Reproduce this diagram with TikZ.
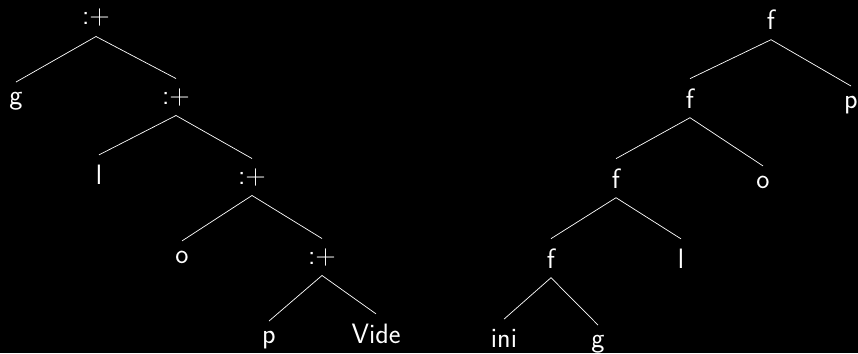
\documentclass[tikz,border=0pt]{standalone}
\usepackage{fontspec}
\begin{document}
\begin{tikzpicture}[x=1pt,y=-1pt,
  lbl/.style={text=white,font=\fontsize{28}{34}\selectfont\sffamily,inner sep=9.5pt,anchor=base},
  edge/.style={draw=white,line width=0.7pt}]
\useasboundingbox[fill=black] (0,0) rectangle (858,353);
% left tree
\node[lbl] (a1) at (96,25) {:+};
\node[lbl] (a2) at (16,104) {g};
\node[lbl] (a3) at (176,104) {:+};
\node[lbl] (a4) at (99,184) {l};
\node[lbl] (a5) at (252,184) {:+};
\node[lbl] (a6) at (182,263) {o};
\node[lbl] (a7) at (322,264) {:+};
\node[lbl] (a8) at (269,343) {p};
\node[lbl] (a9) at (376,343) {Vide};
\draw[edge] (a1.south) -- (a2.north);
\draw[edge] (a1.south) -- (a3.north);
\draw[edge] (a3.south) -- (a4.north);
\draw[edge] (a3.south) -- (a5.north);
\draw[edge] (a5.south) -- (a6.north);
\draw[edge] (a5.south) -- (a7.north);
\draw[edge] (a7.south) -- (a8.north);
\draw[edge] (a7.south) -- (a9.north);
% right tree
\node[lbl] (b1) at (771,30) {f};
\node[lbl] (b2) at (690,108) {f};
\node[lbl] (b3) at (851,108) {p};
\node[lbl] (b4) at (616,188) {f};
\node[lbl] (b5) at (763,188) {o};
\node[lbl] (b6) at (551,268) {f};
\node[lbl] (b7) at (681,268) {l};
\node[lbl] (b8) at (504,347) {ini};
\node[lbl] (b9) at (598,347) {g};
\draw[edge] (b1.south) -- (b2.north);
\draw[edge] (b1.south) -- (b3.north);
\draw[edge] (b2.south) -- (b4.north);
\draw[edge] (b2.south) -- (b5.north);
\draw[edge] (b4.south) -- (b6.north);
\draw[edge] (b4.south) -- (b7.north);
\draw[edge] (b6.south) -- (b8.north);
\draw[edge] (b6.south) -- (b9.north);
\end{tikzpicture}
\end{document}
